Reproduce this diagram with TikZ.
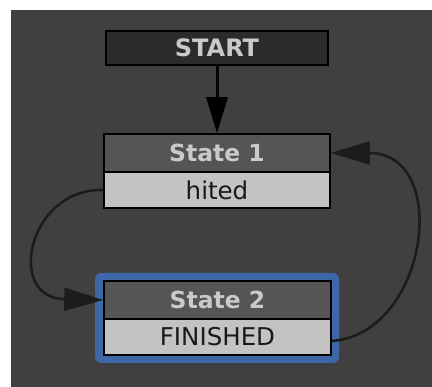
\documentclass[tikz,border=0pt]{standalone}
\usepackage{fontspec}
\setmainfont{DejaVu Sans}
\usetikzlibrary{arrows.meta}
\definecolor{canvas}{HTML}{404040}
\definecolor{startfill}{HTML}{2B2B2B}
\definecolor{headfill}{HTML}{555555}
\definecolor{valfill}{HTML}{C3C3C3}
\definecolor{headtext}{HTML}{CACACA}
\definecolor{selblue}{HTML}{3D67A6}
\definecolor{wire}{HTML}{1C1C1C}
\tikzset{
  box/.style={draw=black, line width=1.6pt, rectangle, inner sep=0pt,
    minimum width=226pt},
  headbox/.style={box, fill=headfill, minimum height=38pt,
    text=headtext, font=\fontsize{23.5}{23.5}\selectfont\bfseries},
  valbox/.style={box, fill=valfill, minimum height=36pt,
    text=black!90, font=\fontsize{24.5}{24.5}\selectfont},
  startbox/.style={box, fill=startfill, minimum width=222pt, minimum height=34pt,
    text=headtext, font=\fontsize{24}{24}\selectfont\bfseries},
  wirearrow/.style={draw=wire, line width=2.6pt,
    -{Triangle[length=39pt,width=23pt]}},
}
\begin{document}
\begin{tikzpicture}[x=1pt,y=-1pt]
  \useasboundingbox (0,0) rectangle (432,387);
  % canvas
  \fill[white] (0,0) rectangle (432,387);
  \fill[canvas] (11,10) rectangle (432,387);
  % selection frame around State 2
  \fill[selblue, rounded corners=6pt] (95,273) rectangle (339,363);

  % nodes
  \node[startbox] (start) at (217,48) {START};
  \node[headbox] (s1) at (217,153) {State 1};
  \node[valbox] (s1v) at (217,190) {hited};
  \node[headbox, minimum width=227pt] (s2) at (217.5,300) {State 2};
  \node[valbox, minimum width=227pt] (s2v) at (217.5,337) {FINISHED};

  % connectors
  \draw[draw=black, line width=3pt, -{Triangle[length=36pt,width=21pt]}]
    (start.south) -- (s1.north);
  \draw[wirearrow] (s1v.west) .. controls (28,188) and (5,298) .. (s2.west);
  \draw[wirearrow] ([yshift=-4pt]s2v.east) .. controls (428,334) and (452,153) .. (s1.east);
\end{tikzpicture}
\end{document}
